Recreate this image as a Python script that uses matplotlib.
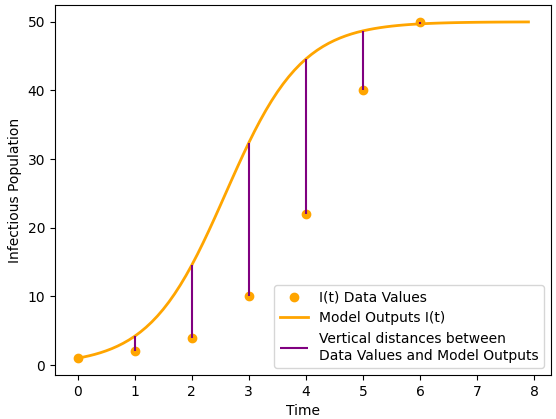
import numpy as np
import matplotlib.pyplot as plt

t_data = [0, 1, 2, 3, 4, 5, 6]
I_data = [1, 2, 4, 10, 22, 40, 50]

# logistic model parameters
K = 50.0
I0 = 1.0
r = 1.5
t_model = np.arange(0, 8.0, 0.1)

def model(t):
    t = np.asarray(t, dtype=float)
    return K / (1 + (K - I0) / I0 * np.exp(-r * t))

fig = plt.figure(figsize=(5.56, 4.19), dpi=100)
W, H = 556, 419
ax = fig.add_axes([55 / W, (H - 375) / H, (551 - 55) / W, (375 - 5) / H])

ax.plot(t_data, I_data, 'o', color='orange', label='I(t) Data Values')
ax.plot(t_model, model(t_model), color='orange', lw=2, label='Model Outputs I(t)')
ax.vlines(t_data, I_data, model(t_data), color='purple',
          label='Vertical distances between\nData Values and Model Outputs')
ax.set_xlabel('Time')
ax.set_ylabel('Infectious Population')
ax.legend(loc='lower right')

fig.savefig('out.png', dpi=100)
